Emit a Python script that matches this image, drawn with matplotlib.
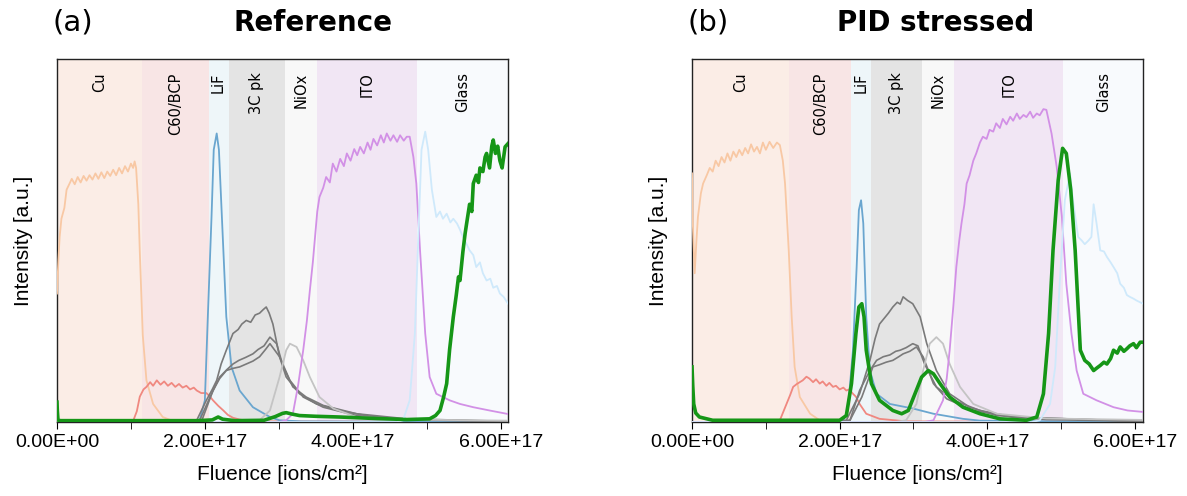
import numpy as np
import matplotlib
matplotlib.use("Agg")
import matplotlib.pyplot as plt
from matplotlib.ticker import FuncFormatter, MultipleLocator

# layer regions (fluence in 1e17 ions/cm2)
layer_names = ["Cu", "C60/BCP", "LiF", "3C pk", "NiOx", "ITO", "Glass"]
layer_colors = ["#fbede6", "#f8e5e5", "#eef6f9", "#e4e4e4", "#f8f8f8", "#f1e6f4", "#f8fafd"]
edges_ref = [0.0, 1.155, 2.05, 2.32, 3.09, 3.52, 4.87, 6.1]
edges_pid = [0.0, 1.32, 2.16, 2.42, 3.12, 3.55, 5.03, 6.11]

# ---- (a) Reference : traced curves, x in 1e17, y in arbitrary units (0..1)
ref_cu_x = [0, 0.02, 0.036, 0.06, 0.1, 0.13, 0.17, 0.2, 0.24, 0.28, 0.32, 0.36, 0.4, 0.44, 0.48, 0.52, 0.56, 0.6,
            0.64, 0.68, 0.72, 0.76, 0.8, 0.84, 0.88, 0.92, 0.96, 1.0, 1.03, 1.05, 1.07, 1.1, 1.12, 1.16, 1.21, 1.3, 1.43, 1.57, 2.0]
ref_cu_y = [0.354, 0.45, 0.51, 0.56, 0.59, 0.64, 0.657, 0.67, 0.655, 0.675, 0.66, 0.678, 0.665, 0.68, 0.668, 0.685, 0.67, 0.688,
            0.672, 0.69, 0.678, 0.695, 0.68, 0.70, 0.685, 0.705, 0.69, 0.712, 0.70, 0.718, 0.70, 0.6, 0.47, 0.24, 0.115, 0.05, 0.014, 0.003, 0.0]

ref_c60_x = [0.8, 1.03, 1.08, 1.12, 1.17, 1.21, 1.26, 1.3, 1.35, 1.4, 1.45, 1.5, 1.55, 1.6, 1.65, 1.7, 1.75, 1.8, 1.85, 1.89,
             1.95, 2.02, 2.07, 2.11, 2.18, 2.25, 2.31, 2.38, 2.47, 2.56, 2.8, 6.1]
ref_c60_y = [0.0, 0.003, 0.03, 0.07, 0.09, 0.097, 0.11, 0.10, 0.115, 0.103, 0.112, 0.10, 0.108, 0.097, 0.105, 0.095, 0.1, 0.09, 0.095, 0.087,
             0.08, 0.08, 0.07, 0.06, 0.045, 0.032, 0.02, 0.012, 0.007, 0.004, 0.002, 0.0]

ref_lif_x = [0, 1.8, 1.93, 2.0, 2.04, 2.09, 2.12, 2.16, 2.19, 2.24, 2.29, 2.36, 2.47, 2.65, 2.88, 3.01, 3.3, 6.1]
ref_lif_y = [0.0, 0.0, 0.005, 0.06, 0.29, 0.565, 0.75, 0.795, 0.75, 0.52, 0.29, 0.152, 0.087, 0.041, 0.014, 0.005, 0.002, 0.0]

ref_g1_x = [1.8, 1.89, 2.02, 2.1, 2.16, 2.22, 2.29, 2.38, 2.45, 2.5, 2.56, 2.62, 2.68, 2.74, 2.79, 2.83, 2.87, 2.92, 3.01, 3.1, 3.28, 3.51, 3.82, 4.28, 4.8, 6.1]
ref_g1_y = [0.0, 0.005, 0.06, 0.09, 0.115, 0.16, 0.198, 0.244, 0.255, 0.27, 0.28, 0.275, 0.295, 0.30, 0.31, 0.317, 0.3, 0.27, 0.18, 0.124, 0.078, 0.05, 0.032, 0.014, 0.006, 0.002]
ref_g2_x = [1.8, 1.93, 2.07, 2.2, 2.3, 2.38, 2.46, 2.55, 2.65, 2.72, 2.8, 2.88, 2.97, 3.06, 3.19, 3.37, 3.6, 4.05, 4.73, 6.1]
ref_g2_y = [0.0, 0.005, 0.069, 0.124, 0.145, 0.16, 0.17, 0.178, 0.188, 0.2, 0.21, 0.234, 0.216, 0.152, 0.097, 0.069, 0.046, 0.023, 0.009, 0.002]
ref_g3_x = [1.8, 1.96, 2.11, 2.2, 2.29, 2.38, 2.47, 2.56, 2.65, 2.74, 2.82, 2.88, 3.01, 3.15, 3.33, 3.6, 4.05, 4.73, 6.1]
ref_g3_y = [0.0, 0.005, 0.087, 0.12, 0.142, 0.148, 0.152, 0.16, 0.168, 0.18, 0.2, 0.216, 0.18, 0.115, 0.069, 0.041, 0.018, 0.007, 0.002]

ref_niox_x = [0, 2.6, 2.74, 2.88, 3.01, 3.1, 3.15, 3.24, 3.33, 3.42, 3.55, 3.74, 4.05, 4.73, 6.1]
ref_niox_y = [0.0, 0.0, 0.005, 0.032, 0.124, 0.198, 0.216, 0.207, 0.17, 0.124, 0.069, 0.037, 0.014, 0.007, 0.004]

ref_ito_x = [0, 3.0, 3.1, 3.19, 3.26, 3.33, 3.38, 3.42, 3.46, 3.49, 3.52, 3.55, 3.6, 3.64, 3.69, 3.73, 3.78, 3.83, 3.88, 3.92,
             3.97, 4.02, 4.06, 4.1, 4.15, 4.2, 4.24, 4.28, 4.33, 4.38, 4.42, 4.46, 4.51, 4.55, 4.6, 4.64, 4.69, 4.73, 4.77,
             4.82, 4.86, 4.91, 4.98, 5.04, 5.13, 5.31, 5.45, 5.63, 5.85, 6.08, 6.1]
ref_ito_y = [0.0, 0.0, 0.005, 0.023, 0.1, 0.198, 0.28, 0.363, 0.44, 0.51, 0.58, 0.62, 0.645, 0.675, 0.66, 0.712, 0.69, 0.725, 0.705, 0.74,
             0.72, 0.752, 0.735, 0.758, 0.74, 0.77, 0.75, 0.78, 0.762, 0.79, 0.77, 0.795, 0.775, 0.79, 0.772, 0.79, 0.775, 0.786, 0.786,
             0.73, 0.657, 0.473, 0.244, 0.124, 0.078, 0.06, 0.05, 0.041, 0.032, 0.023, 0.022]

ref_glass_x = [0, 4.6, 4.68, 4.77, 4.84, 4.88, 4.93, 4.98, 5.02, 5.07, 5.13, 5.18, 5.22, 5.27, 5.32, 5.36, 5.41, 5.45, 5.49,
               5.54, 5.58, 5.63, 5.67, 5.72, 5.76, 5.81, 5.86, 5.9, 5.95, 5.99, 6.04, 6.1]
ref_glass_y = [0.0, 0.0, 0.005, 0.06, 0.244, 0.473, 0.75, 0.80, 0.75, 0.64, 0.565, 0.58, 0.56, 0.574, 0.55, 0.56, 0.547, 0.53, 0.51,
               0.49, 0.473, 0.46, 0.427, 0.44, 0.41, 0.39, 0.395, 0.37, 0.375, 0.354, 0.345, 0.326]

ref_green_x = [0, 0.005, 0.014, 0.05, 1.9, 2.1, 2.18, 2.24, 2.4, 2.8, 2.95, 3.05, 3.1, 3.18, 3.28, 3.5, 3.82, 4.3, 4.73, 5.04, 5.12,
               5.18, 5.23, 5.27, 5.31, 5.36, 5.4, 5.43, 5.45, 5.49, 5.52, 5.54, 5.58, 5.61, 5.63, 5.67, 5.7, 5.72, 5.76, 5.79,
               5.81, 5.85, 5.88, 5.9, 5.93, 5.96, 5.99, 6.02, 6.06, 6.1]
ref_green_y = [0.055, 0.03, 0.005, 0.004, 0.004, 0.006, 0.014, 0.008, 0.004, 0.005, 0.015, 0.024, 0.026, 0.022, 0.018, 0.016, 0.014, 0.01, 0.007, 0.009, 0.018,
               0.032, 0.07, 0.106, 0.2, 0.29, 0.35, 0.40, 0.39, 0.47, 0.52, 0.547, 0.6, 0.58, 0.657, 0.68, 0.66, 0.70, 0.69, 0.73,
               0.74, 0.7, 0.76, 0.777, 0.74, 0.76, 0.72, 0.7, 0.758, 0.767]

# ---- (b) PID stressed
pid_cu_x = [0, 0.01, 0.036, 0.06, 0.08, 0.12, 0.15, 0.2, 0.24, 0.28, 0.32, 0.36, 0.4, 0.44, 0.48, 0.52, 0.56, 0.6, 0.64, 0.68,
            0.72, 0.76, 0.8, 0.84, 0.88, 0.92, 0.96, 1.0, 1.05, 1.1, 1.15, 1.19, 1.23, 1.26, 1.31, 1.35, 1.39, 1.46, 1.6, 1.73, 2.2]
pid_cu_y = [0.685, 0.55, 0.41, 0.5, 0.565, 0.63, 0.657, 0.68, 0.70, 0.69, 0.72, 0.705, 0.73, 0.715, 0.74, 0.72, 0.745, 0.73, 0.75, 0.735,
            0.755, 0.74, 0.765, 0.745, 0.758, 0.74, 0.77, 0.75, 0.772, 0.755, 0.77, 0.763, 0.72, 0.657, 0.473, 0.29, 0.152, 0.069, 0.023, 0.005, 0.0]

pid_c60_x = [0.9, 1.19, 1.24, 1.28, 1.33, 1.37, 1.42, 1.46, 1.5, 1.55, 1.59, 1.64, 1.68, 1.73, 1.77, 1.82, 1.86, 1.91, 1.95,
             2.0, 2.05, 2.09, 2.13, 2.18, 2.22, 2.27, 2.36, 2.54, 2.9, 6.1]
pid_c60_y = [0.0, 0.005, 0.03, 0.05, 0.075, 0.097, 0.105, 0.11, 0.115, 0.125, 0.12, 0.11, 0.118, 0.106, 0.112, 0.1, 0.108, 0.097, 0.1,
             0.09, 0.095, 0.087, 0.09, 0.078, 0.07, 0.05, 0.023, 0.009, 0.002, 0.0]

pid_lif_x = [0, 1.95, 2.05, 2.11, 2.18, 2.23, 2.26, 2.29, 2.32, 2.36, 2.41, 2.5, 2.68, 3.0, 3.27, 3.67, 3.9, 6.1]
pid_lif_y = [0.0, 0.0, 0.005, 0.032, 0.198, 0.427, 0.584, 0.611, 0.547, 0.29, 0.142, 0.078, 0.05, 0.037, 0.023, 0.009, 0.004, 0.0]

pid_g1_x = [1.9, 2.09, 2.27, 2.41, 2.48, 2.54, 2.6, 2.66, 2.72, 2.78, 2.82, 2.86, 2.92, 2.99, 3.09, 3.18, 3.31, 3.49, 3.76, 4.13, 4.8, 6.1]
pid_g1_y = [0.0, 0.005, 0.078, 0.17, 0.23, 0.27, 0.285, 0.3, 0.317, 0.33, 0.325, 0.345, 0.335, 0.326, 0.29, 0.216, 0.142, 0.078, 0.041, 0.018, 0.007, 0.002]
pid_g2_x = [1.9, 2.14, 2.27, 2.41, 2.5, 2.59, 2.68, 2.76, 2.82, 2.9, 2.99, 3.06, 3.15, 3.31, 3.54, 3.9, 4.35, 6.1]
pid_g2_y = [0.0, 0.005, 0.087, 0.142, 0.17, 0.18, 0.185, 0.195, 0.198, 0.205, 0.216, 0.21, 0.16, 0.097, 0.06, 0.032, 0.014, 0.002]
pid_g3_x = [1.9, 2.14, 2.3, 2.45, 2.54, 2.63, 2.72, 2.8, 2.86, 2.95, 3.04, 3.13, 3.27, 3.45, 3.81, 4.35, 6.1]
pid_g3_y = [0.0, 0.005, 0.069, 0.152, 0.158, 0.165, 0.17, 0.18, 0.188, 0.195, 0.207, 0.18, 0.106, 0.064, 0.032, 0.014, 0.002]

pid_niox_x = [0, 2.75, 2.9, 3.04, 3.13, 3.22, 3.31, 3.4, 3.49, 3.63, 3.81, 4.13, 4.8, 6.1]
pid_niox_y = [0.0, 0.0, 0.005, 0.05, 0.142, 0.216, 0.234, 0.216, 0.16, 0.097, 0.05, 0.023, 0.01, 0.006]

pid_ito_x = [0, 3.15, 3.27, 3.4, 3.45, 3.49, 3.54, 3.58, 3.62, 3.65, 3.69, 3.72, 3.76, 3.81, 3.85, 3.9, 3.94, 3.99, 4.03, 4.08, 4.12,
             4.17, 4.21, 4.26, 4.31, 4.35, 4.4, 4.44, 4.49, 4.53, 4.58, 4.62, 4.67, 4.71, 4.76, 4.8, 4.87, 4.94, 5.01,
             5.07, 5.14, 5.21, 5.3, 5.48, 5.71, 5.9, 6.11]
pid_ito_y = [0.0, 0.0, 0.005, 0.06, 0.12, 0.198, 0.32, 0.427, 0.5, 0.547, 0.6, 0.657, 0.68, 0.72, 0.74, 0.77, 0.786, 0.78, 0.805, 0.8, 0.823,
             0.81, 0.835, 0.82, 0.841, 0.83, 0.85, 0.835, 0.846, 0.84, 0.855, 0.838, 0.85, 0.845, 0.862, 0.86, 0.795, 0.703, 0.565,
             0.381, 0.244, 0.142, 0.078, 0.06, 0.041, 0.032, 0.028]

pid_glass_x = [0, 4.6, 4.71, 4.85, 4.92, 4.98, 5.05, 5.12, 5.16, 5.23, 5.28, 5.32, 5.37, 5.41, 5.44, 5.48, 5.53, 5.58, 5.62,
               5.67, 5.71, 5.76, 5.8, 5.85, 5.89, 5.93, 5.98, 6.02, 6.07, 6.11]
pid_glass_y = [0.0, 0.0, 0.005, 0.05, 0.152, 0.381, 0.611, 0.685, 0.611, 0.51, 0.5, 0.49, 0.5, 0.51, 0.6, 0.547, 0.473, 0.47, 0.455,
               0.44, 0.427, 0.41, 0.381, 0.37, 0.35, 0.345, 0.34, 0.335, 0.33, 0.326]

pid_green_x = [0, 0.01, 0.023, 0.05, 0.1, 0.28, 2.0, 2.09, 2.16, 2.22, 2.26, 2.3, 2.33, 2.36, 2.43, 2.54, 2.72, 2.84, 2.93, 3.02,
               3.11, 3.2, 3.27, 3.36, 3.49, 3.67, 3.9, 4.17, 4.53, 4.67, 4.76, 4.83, 4.89, 4.96, 5.02, 5.07, 5.13, 5.19, 5.26,
               5.32, 5.38, 5.44, 5.49, 5.53, 5.58, 5.62, 5.67, 5.71, 5.76, 5.8, 5.85, 5.89, 5.93, 5.98, 6.02, 6.07, 6.11]
pid_green_y = [0.152, 0.1, 0.05, 0.025, 0.014, 0.005, 0.005, 0.018, 0.106, 0.244, 0.317, 0.326, 0.29, 0.198, 0.106, 0.06, 0.032, 0.023, 0.032, 0.078,
               0.124, 0.142, 0.133, 0.106, 0.069, 0.041, 0.023, 0.009, 0.005, 0.014, 0.078, 0.244, 0.473, 0.666, 0.754, 0.74, 0.64, 0.473, 0.198,
               0.17, 0.16, 0.142, 0.15, 0.156, 0.165, 0.16, 0.175, 0.198, 0.19, 0.207, 0.195, 0.202, 0.21, 0.216, 0.205, 0.22, 0.22]

panels = [
    dict(tag="(a)", title="Reference", title_x=0.568, edges=edges_ref,
         curves=[(ref_cu_x, ref_cu_y), (ref_c60_x, ref_c60_y), (ref_lif_x, ref_lif_y),
                 (ref_g1_x, ref_g1_y), (ref_g2_x, ref_g2_y), (ref_g3_x, ref_g3_y),
                 (ref_niox_x, ref_niox_y), (ref_ito_x, ref_ito_y), (ref_glass_x, ref_glass_y),
                 (ref_green_x, ref_green_y)]),
    dict(tag="(b)", title="PID stressed", title_x=0.541, edges=edges_pid,
         curves=[(pid_cu_x, pid_cu_y), (pid_c60_x, pid_c60_y), (pid_lif_x, pid_lif_y),
                 (pid_g1_x, pid_g1_y), (pid_g2_x, pid_g2_y), (pid_g3_x, pid_g3_y),
                 (pid_niox_x, pid_niox_y), (pid_ito_x, pid_ito_y), (pid_glass_x, pid_glass_y),
                 (pid_green_x, pid_green_y)]),
]

# style per curve, same order as above
styles = [
    dict(color="#f8c8a4", lw=1.3),
    dict(color="#f08880", lw=1.3),
    dict(color="#6aa6cf", lw=1.3),
    dict(color="#7a7a7a", lw=1.2),
    dict(color="#7a7a7a", lw=1.2),
    dict(color="#7a7a7a", lw=1.2),
    dict(color="#c4c4c4", lw=1.3),
    dict(color="#d290e6", lw=1.3),
    dict(color="#cfe9fb", lw=1.3),
    dict(color="#169617", lw=2.6),
]

fig = plt.figure(figsize=(11.87, 4.96), dpi=100)
axes_pos = [[0.048, 0.149, 0.380, 0.732], [0.583, 0.149, 0.380, 0.732]]

for pos, p in zip(axes_pos, panels):
    ax = fig.add_axes(pos)
    e = p["edges"]
    for i, (name, c) in enumerate(zip(layer_names, layer_colors)):
        ax.axvspan(e[i] * 1e17, e[i + 1] * 1e17, color=c, lw=0, zorder=0)
        ax.text((e[i] + e[i + 1]) / 2 * 1e17, 0.963, name, rotation=90, ha="center", va="top",
                fontsize=10.5, family="DejaVu Sans", zorder=5)
    for (x, y), st in zip(p["curves"], styles):
        ax.plot(np.array(x) * 1e17, y, zorder=3, **st)
    ax.set_xlim(0, e[-1] * 1e17)
    ax.set_ylim(0, 1)
    ax.set_yticks([])
    ax.xaxis.set_major_locator(MultipleLocator(2e17))
    ax.xaxis.set_minor_locator(MultipleLocator(1e17))
    ax.xaxis.set_major_formatter(FuncFormatter(lambda v, _: f"{v:.2E}"))
    ax.tick_params(axis="x", which="both", length=5, direction="out")
    for lab in ax.get_xticklabels():
        lab.set_family("Liberation Sans")
        lab.set_fontsize(14)
    ax.set_xlabel("Fluence [ions/cm²]", family="Liberation Sans", fontsize=15, labelpad=10)
    ax.set_ylabel("Intensity [a.u.]", family="Liberation Sans", fontsize=15, labelpad=17)
    for s in ax.spines.values():
        s.set_linewidth(1.0)
        s.set_color("#222222")
    ax.text(-0.01, 1.10, p["tag"], transform=ax.transAxes, fontsize=21, family="DejaVu Sans", va="center")
    ax.text(p["title_x"], 1.10, p["title"], transform=ax.transAxes, fontsize=20, weight="bold",
            family="DejaVu Sans", ha="center", va="center")

fig.savefig("out.png", dpi=100)
